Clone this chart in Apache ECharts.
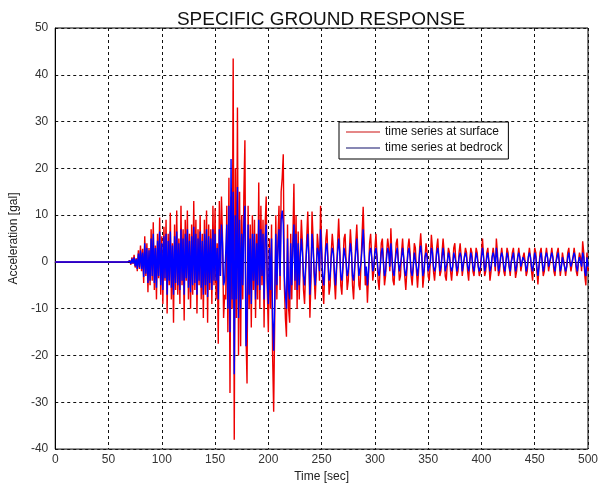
<!DOCTYPE html>
<html>
<head>
<meta charset="utf-8">
<script src="https://cdn.jsdelivr.net/npm/echarts@6/dist/echarts.min.js"></script>
<style>
html,body{margin:0;padding:0;background:#fff;}
#chart{width:603px;height:488px;}
</style>
</head>
<body>
<div id="chart"></div>
<script>
// time axis: one sample per second starting at t = 0
const timeStart = 0;
const timeStep = 1;

const xTicks = [0, 50, 100, 150, 200, 250, 300, 350, 400, 450, 500];
const yTicks = [-40, -30, -20, -10, 0, 10, 20, 30, 40, 50];

const seriesNames = ["time series at surface", "time series at bedrock"];

// surface acceleration [gal], t = 0..500 s
const surface = [
 0,0,0,0,0,0,0,0,0,0, 0,0,0,0,0,0,0,0,0,0, 0,0,0,0,0,0,0,0,0,0, 0,0,0,0,0,0,0,0,0,0,
 0,0,0,0,0,0,0,0,0,0, 0,0,0,0,0,0,0,0,0,0, 0,0,0,0,0,0,0,0,0,0,
 0.3,-0.6,1,-0.4,1.5,-1.2,0.8,-2,2.5,-1.5,
 3.5,-2,2.8,-4.5,5.5,-3,4,-6.5,3,-5,
 7,-4,8.5,-6,3.5,-8,6,-3.5,9.5,-7,
 5.5,-9,7.5,-4,9,-11,6,-5,10.5,-8,
 4,-13,8,-6,11,-7,5,-9,12,-5,
 7,-12.5,9,-4,11,-8,6,-10,8,-7,
 13,-6,9,-11,7,-5,10,-8,6,-12,
 9,-7,11,-13,8,-6,7,-9,12,-5,
 11.5,-8,4,-17.5,13,-3,14,5,-12,-7,
 -8,12,-15,18,-28,14,-10,43.5,-38,20,
 -12,33,-20,15,-18,10,-8,14,26,-15,
 -26,12,-10,8,-14,10,-6,9,-12,6,
 -8,17,-10,12,-5,9,-14,8,14,-6,
 -15,5,-10,8,-20,-32,-12,10,-8,5,
 12,-6,15,18,23,-5,-12,-16,8,-10,
 -13,6,-8,5,16.7,-6,10,-10,6.5,-8,
 2,9,4,-6,-9,-2,5,10.8,2,-11.9,
 -4,10.8,5,-3,-8,-2,6,3,-4,12,
 4,-6,-9,-1,5,7,0,-7,-5,2,
 6,3,-4,-8,-2,4,9.3,3,-5,-7,
 -1,5,6,0,-6,-4,2,7,3,-5,
 -8,-2,4,8,2,-5,-6,0,6,11.8,
 3,-5,-2,-8.7,-3,4,6,1,-4,-2,
 3,6,1,-4,-6,-1,4,5,0,-5,
 -3,2,5,3,-2,7.2,1,-4,-5,0,
 4,5,0,-4,-3,2,5,1,-3,-6,
 -2,3,5,2,-3,-5,-1,4,3,-2,
 -5.5,-2,3,6.1,2,-5.5,-3,1,4,2,
 -3,-4,0,5.8,3,-2,-4,-1,3,5,
 1,-3,-2,2,5,2,-3,-4,0,3,
 2,-2,-4,-1,3,4,0,-3,-2,2,
 4,1,-3,-3,1,3,2,-2,-4,0,
 3,2,-2,-3,0,3,2,-1,-3,-2,
 2,5,1,-3,-2,2,3,0,-4,-2,
 1,3,1,-2,5,2,-3,-2,1,3,
 1,-2,-3,0,3,2,-1,-3,0,2,
 3,0,-3.4,-2,1,3,1,-2,-2,1,
 2,0,-3,-2,1,3,1,-2,-4,0,
 3,2,-2,-4.8,-1,2,3,0,-3,-2,
 1,3,1,-2,-2,1,3,1,-2,-3,
 0,2,3,0,-3,-1,2,2,-1,-3,
 -1,2,3,0,-2,-2,1,3,1,-2,
 -3,0,2,1,-2,4.4,2,-3,-5,2,
 -2
];

// bedrock acceleration [gal], t = 0..500 s
const bedrock = [
 0,0,0,0,0,0,0,0,0,0, 0,0,0,0,0,0,0,0,0,0, 0,0,0,0,0,0,0,0,0,0, 0,0,0,0,0,0,0,0,0,0,
 0,0,0,0,0,0,0,0,0,0, 0,0,0,0,0,0,0,0,0,0, 0,0,0,0,0,0,0,0,0,0,
 0.2,-0.4,0.7,-0.3,1,-0.9,0.6,-1.5,1.8,-1.2,
 2.5,-1.5,2,-3.2,4,-2.5,3,-4.5,2.5,-4,
 5,-3,6,-4.5,3,-5.5,4.5,-3,6.5,-5,
 4,-6,5.5,-3.5,6,-7,4.5,-4,6.5,-5.5,
 3.5,-7,5.5,-4.5,6.5,-5,4,-6,7,-4,
 5,-7,6,-3.5,7,-5.5,4.5,-6.5,5.5,-5,
 7.5,-4.5,6,-7,5,-4,6.5,-5.5,4.5,-7,
 6,-5,7,-7.5,5.5,-4.5,5,-6,7,-4,
 6,-4,3,-8,7,-3,8,4,-5,-4,
 -4,8,-10,12,-15,22,-8,15,-24,10,
 -8,16,-12,9,-10,6,-5,8,12,-18,
 -12,8,-7,5,-9,6,-4,6,-8,4,
 -5,9,-6,7,-3,6,-8,5,8,-4,
 -9,3,-6,5,-12,-19,-8,6,-5,3,
 7,-3,9,11,8,-3,-7,-10,5,-6,
 -8,4,-5,3,8,-4,6,-6,4,-5,
 1,5,2,-3,-5,-1,3,6,1,-7,
 -2,6,3,-2,-5,-1,3,2,-2,7,
 2,-3,-5,-1,3,4,0,-4,-3,1,
 3,2,-2,-5,-1,2,5,2,-3,-4,
 -1,3,3,0,-3,-2,1,4,2,-3,
 -4,-1,2,5,1,-3,-3,0,3,7,
 2,-3,-1,-5,-2,2,3,1,-2,-1,
 2,3,1,-2,-3,-1,2,3,0,-3,
 -2,1,3,2,-1,4,1,-2,-3,0,
 2,3,0,-2,-2,1,3,1,-2,-3,
 -1,2,3,1,-2,-3,-1,2,2,-1,
 -3,-1,2,3.5,1,-3,-2,1,2,1,
 -2,-2,0,3,2,-1,-2,-1,2,3,
 1,-2,-1,1,3,1,-2,-2,0,2,
 1,-1,-2,-1,2,2,0,-2,-1,1,
 2,1,-2,-2,1,2,1,-1,-2,0,
 2,1,-1,-2,0,2,1,-1,-2,-1,
 1,3,1,-2,-1,1,2,0,-2,-1,
 1,2,1,-1,3,1,-2,-1,1,2,
 1,-1,-2,0,2,1,-1,-2,0,1,
 2,0,-2,-1,1,2,1,-1,-1,1,
 1,0,-2,-1,1,2,1,-1,-2,0,
 2,1,-1,-3,-1,1,2,0,-2,-1,
 1,2,1,-1,-1,1,2,1,-1,-2,
 0,1,2,0,-2,-1,1,1,-1,-2,
 -1,1,2,0,-1,-1,1,2,1,-1,
 -2,0,1,1,-1,2,1,-2,-3,1,
 -1
];

function toPairs(values) {
  return values.map((v, i) => [timeStart + i * timeStep, v]);
}

const chart = echarts.init(document.getElementById('chart'), null, {renderer: 'canvas'});
const font = 'Arial, "Liberation Sans", sans-serif';

chart.setOption({
  animation: false,
  backgroundColor: '#fff',
  title: {
    text: 'SPECIFIC GROUND RESPONSE',
    left: 316, top: 5,
    textAlign: 'center',
    textStyle: {fontFamily: font, fontSize: 19, fontWeight: 'normal', color: '#111'}
  },
  legend: {
    left: 339, top: 122,
    orient: 'vertical',
    data: seriesNames,
    icon: 'rect',
    itemWidth: 34, itemHeight: 1,
    itemGap: 4,
    padding: [4, 6, 5, 7],
    borderColor: '#000', borderWidth: 1,
    backgroundColor: '#fff',
    textStyle: {fontFamily: font, fontSize: 12, color: '#111'}
  },
  grid: {left: 53, right: 15, top: 28, bottom: 35, show: true, borderColor: '#000', borderWidth: 1, backgroundColor: 'transparent'},
  xAxis: {
    type: 'value', min: xTicks[0], max: xTicks[xTicks.length - 1], interval: 50,
    name: 'Time [sec]', nameLocation: 'middle', nameGap: 21,
    nameTextStyle: {fontFamily: font, fontSize: 12, color: '#222'},
    axisLine: {show: true, lineStyle: {color: '#000', width: 1}},
    axisTick: {show: false},
    axisLabel: {fontFamily: font, fontSize: 12, color: '#333', margin: 5},
    splitLine: {show: true, lineStyle: {color: '#111', width: 1, type: [3, 3]}}
  },
  yAxis: {
    type: 'value', min: yTicks[0], max: yTicks[yTicks.length - 1], interval: 10,
    name: 'Acceleration [gal]', nameLocation: 'middle', nameGap: 30, nameRotate: 90,
    nameTextStyle: {fontFamily: font, fontSize: 12, color: '#222'},
    axisLine: {show: true, lineStyle: {color: '#000', width: 1}},
    axisTick: {show: false},
    axisLabel: {fontFamily: font, fontSize: 12, color: '#333', margin: 7},
    splitLine: {show: true, lineStyle: {color: '#111', width: 1, type: [3, 3]}}
  },
  series: [
    {
      name: seriesNames[0], type: 'line', data: toPairs(surface),
      showSymbol: false, symbol: 'none', sampling: null,
      lineStyle: {color: '#ee0000', width: 1.4}, itemStyle: {color: '#cc1111'},
      z: 2
    },
    {
      name: seriesNames[1], type: 'line', data: toPairs(bedrock),
      showSymbol: false, symbol: 'none', sampling: null,
      lineStyle: {color: '#0000ff', width: 1.4}, itemStyle: {color: '#11116a'},
      z: 3
    }
  ]
});
</script>
</body>
</html>
